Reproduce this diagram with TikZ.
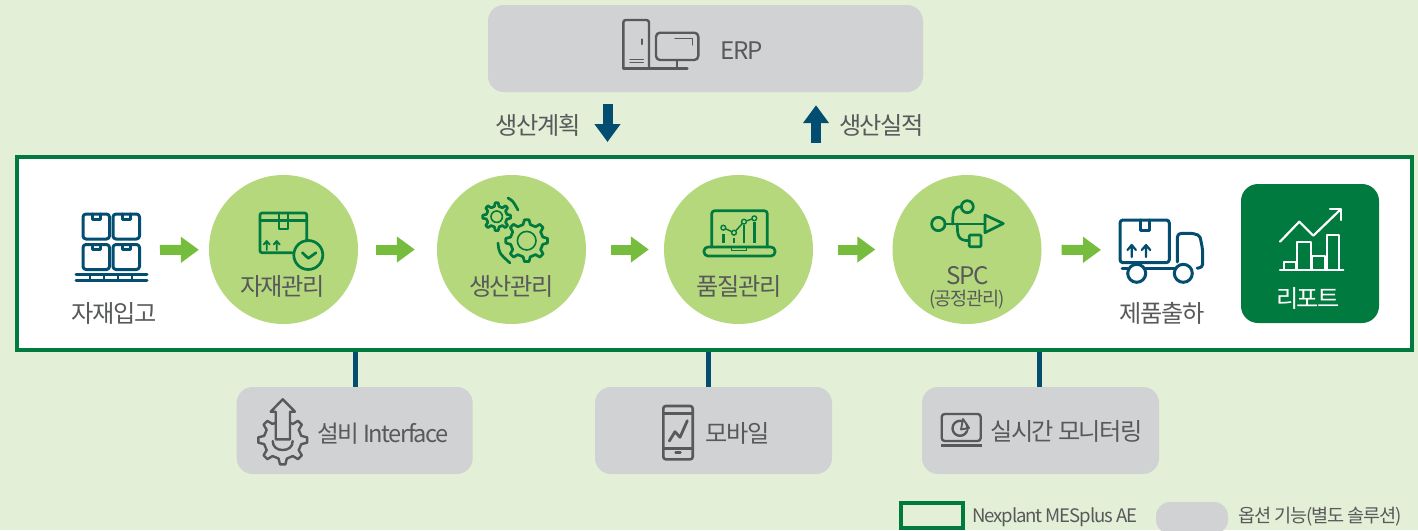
\documentclass[tikz,border=0pt]{standalone}
\usepackage{fontspec}
\setmainfont[LetterSpace=-6]{Noto Sans CJK KR}
\usetikzlibrary{arrows.meta,positioning}
\definecolor{pagegreen}{HTML}{E3EFD6}
\definecolor{framegreen}{HTML}{007A3F}
\definecolor{circlegreen}{HTML}{B5D87C}
\definecolor{arrowgreen}{HTML}{76BC3D}
\definecolor{boxgray}{HTML}{D0D2D3}
\definecolor{linkblue}{HTML}{034E70}
\definecolor{textgray}{HTML}{58595B}
\tikzset{
    label/.style = {
            inner sep  = 0pt,
            yshift     = -1pt,
            text       = textgray,
            font       = \fontsize{24.2}{28}\selectfont,
        },
    smalllabel/.style = {
            label,
            font = \fontsize{18.6}{22}\selectfont,
        },
    stepcircle/.style = {
            circle,
            fill         = circlegreen,
            minimum size = 149pt,
            inner sep    = 0pt,
        },
    optionbox/.style = {
            rectangle,
            fill            = boxgray,
            rounded corners = 16pt,
            inner sep       = 0pt,
            minimum height  = 87pt,
        },
    flow/.style = {
            draw       = arrowgreen,
            line width = 10pt,
            -{Triangle[length=18pt,width=25pt]},
        },
    transfer/.style = {
            draw       = linkblue,
            line width = 10pt,
            -{Triangle[length=18pt,width=25pt]},
        },
    link/.style = {
            draw       = linkblue,
            line width = 5pt,
        },
    greenicon/.style = {
            draw       = framegreen,
            line width = 2.7pt,
            line join  = round,
            line cap   = round,
        },
    blueicon/.style = {
            draw       = linkblue,
            line width = 3pt,
            line join  = round,
            line cap   = round,
        },
    grayicon/.style = {
            draw       = textgray,
            line width = 2.4pt,
            line join  = round,
            line cap   = round,
        },
    whiteicon/.style = {
            draw       = white,
            line width = 2.2pt,
            line join  = round,
            line cap   = round,
        },
}
\newcommand{\gearshape}[6]{
    \pgfmathsetmacro{\gearstep}{360/#5}
    \foreach \i in {1,...,#5}{
        \pgfmathsetmacro{\gearangle}{\i*\gearstep}
        \draw[#6, shift={(#1,#2)}] (\gearangle-.28*\gearstep:#3) -- (\gearangle-.14*\gearstep:#4) -- (\gearangle+.14*\gearstep:#4) -- (\gearangle+.28*\gearstep:#3) -- (\gearangle+.72*\gearstep:#3);
    }
}
\begin{document}
\begin{tikzpicture}[x=1pt,y=-1pt]
    \useasboundingbox (0,0) rectangle (1418,530);
    \fill[pagegreen] (0,0) rectangle (1418,530);

    \node[rectangle, draw=framegreen, fill=white, line width=4pt, minimum width=1395pt, minimum height=193pt, inner sep=0pt] at (714.5,253.5) (frame) {};

    \node[optionbox, minimum width=435pt] at (705.5,48.5) (erp) {};
    \node[optionbox, minimum width=236pt] at (354.7,430.5) (iface) {};
    \node[optionbox, minimum width=237pt] at (713.5,430.5) (mobile) {};
    \node[optionbox, minimum width=237pt] at (1040.5,430.5) (monitor) {};

    \node[stepcircle] at (283.5,249.5) (material) {};
    \node[stepcircle] at (511.5,249.5) (production) {};
    \node[stepcircle] at (738.5,249.5) (quality) {};
    \node[stepcircle] at (967,249.5) (spc) {};
    \node[rectangle, fill=framegreen, rounded corners=17pt, minimum width=138pt, minimum height=139pt, inner sep=0pt] at (1310,253.5) (report) {};

    \coordinate (pallet) at (111,250);
    \coordinate (truck) at (1160,250);

    \draw[flow, shorten <=49pt, shorten >=10pt] (pallet) -- (material);
    \draw[flow, shorten <=18pt, shorten >=22pt] (material) -- (production);
    \draw[flow, shorten <=25pt, shorten >=15pt] (production) -- (quality);
    \draw[flow, shorten <=25pt, shorten >=17pt] (quality) -- (spc);
    \draw[flow, shorten <=20pt, shorten >=59pt] (spc) -- (truck);

    \draw[transfer, shorten <=12pt, shorten >=13pt] ([xshift=-98pt]erp.south) -- ([xshift=-98pt]erp.south |- frame.north);
    \draw[transfer, shorten <=12pt, shorten >=13pt] ([xshift=110.5pt]erp.south |- frame.north) -- ([xshift=110.5pt]erp.south);

    \draw[link] ([xshift=1pt]iface.north) -- ([xshift=1pt]iface.north |- frame.south);
    \draw[link] ([xshift=-5.5pt]mobile.north) -- ([xshift=-5.5pt]mobile.north |- frame.south);
    \draw[link] ([xshift=-1.5pt]monitor.north) -- ([xshift=-1.5pt]monitor.north |- frame.south);

    \node[label] at (114,312) (palletlabel) {자재입고};
    \node[label] at (282.5,285) (materiallabel) {자재관리};
    \node[label] at (511.5,285) (productionlabel) {생산관리};
    \node[label] at (739,285) (qualitylabel) {품질관리};
    \node[label] at (967.5,275) (spclabel) {SPC};
    \node[smalllabel] at (967,299) (spcsublabel) {(공정관리)};
    \node[label] at (1162,312) (trucklabel) {제품출하};
    \node[label, text=white] at (1308,297) (reportlabel) {리포트};
    \node[label] at (741.5,50) (erplabel) {ERP};
    \node[label] at (538,124) (planlabel) {생산계획};
    \node[label] at (881.5,124) (resultlabel) {생산실적};
    \node[label, anchor=west, font=\fontsize{23.6}{28}\selectfont] at (317,433) (ifacelabel) {설비 Interface};
    \node[label] at (737.5,432) (mobilelabel) {모바일};
    \node[label] at (1066.5,430) (monitorlabel) {실시간 모니터링};

    \node[rectangle, draw=framegreen, line width=4pt, minimum width=62pt, minimum height=25pt, inner sep=0pt] at (932,515.5) (legendframe) {};
    \fill[boxgray, rounded corners=14pt] (1156,502) rectangle (1228,534);
    \node[smalllabel, anchor=west] at (972,516) (legendmes) {Nexplant MESplus AE};
    \node[smalllabel, anchor=west] at (1238,516) (legendoption) {옵션 기능(별도 솔루션)};

    \foreach \bx/\by in {83/214,113/214,83/244.5,113/244.5}{
        \draw[blueicon, rounded corners=3pt] (\bx,\by) rectangle ++(26.5,25);
        \draw[blueicon] (\bx+9,\by) -- ++(0,5) -- ++(8,0) -- ++(0,-5);
    }
    \draw[blueicon] (76,274) -- (147,274);
    \draw[blueicon] (76,280.5) -- (147,280.5);
    \foreach \bx in {90,104,118,132}{
        \draw[blueicon, line width=1.6pt] (\bx,274) -- (\bx,280.5);
    }

    \draw[greenicon, rounded corners=2pt] (292,252.7) -- (260,252.7) -- (260,213) -- (306.7,213) -- (306.7,241);
    \draw[greenicon] (260,220.7) -- (306.7,220.7);
    \draw[greenicon] (279,213) -- (279,229) -- (288,229) -- (288,213);
    \draw[greenicon, line width=1.8pt] (266.7,250) -- (266.7,241) (263.7,244.5) -- (266.7,241) -- (269.7,244.5);
    \draw[greenicon, line width=1.8pt] (276.7,250) -- (276.7,241) (273.7,244.5) -- (276.7,241) -- (279.7,244.5);
    \draw[greenicon] (308.3,255) circle (14.5);
    \draw[greenicon] (302.3,252.7) -- (308.3,258.3) -- (316,252.7);

    \gearshape{496.7}{216.7}{10.5pt}{14pt}{8}{greenicon}
    \draw[greenicon, line width=1.6pt] (496.7,216.7) circle (5.7);
    \gearshape{526.7}{240.7}{16.5pt}{21pt}{8}{greenicon}
    \draw[greenicon, line width=1.6pt] (526.7,240.7) circle (9.3);
    \draw[greenicon] (508,198) .. controls (513,201) .. (518,210);
    \draw[greenicon] (498,243) .. controls (499,253) .. (510,263);

    \draw[greenicon, rounded corners=3pt] (711.7,247) -- (711.7,210.7) -- (767.3,210.7) -- (767.3,247);
    \draw[greenicon, rounded corners=4pt] (704,247) rectangle (775,256);
    \draw[greenicon, line width=1.4pt] (731.7,247) -- (731.7,250.7) -- (746.7,250.7) -- (746.7,247);
    \draw[greenicon, line width=1.4pt] (723.3,227.7) -- (734,232.7) -- (744,221.7) -- (754.3,218.3);
    \foreach \px/\py in {723.3/227.7,734/232.7,744/221.7,754.3/218.3}{
        \draw[greenicon, line width=1.4pt, fill=circlegreen] (\px,\py) circle (2.4);
    }
    \draw[greenicon, line cap=butt] (723.3,234) -- (723.3,242.7);
    \draw[greenicon, line cap=butt] (734,238.3) -- (734,242.7);
    \draw[greenicon, line cap=butt] (744,225) -- (744,242.7);
    \draw[greenicon, line cap=butt] (754.3,222) -- (754.3,242.7);

    \draw[greenicon] (938.3,224) circle (6.7);
    \draw[greenicon] (945,224) -- (985,224);
    \draw[greenicon] (985,215) -- (1003.3,223.5) -- (985,232.7) -- cycle;
    \draw[greenicon] (952.7,224) .. controls (952.7,212) and (953,206.7) .. (961.3,206.7);
    \draw[greenicon] (967.3,206.7) circle (6);
    \draw[greenicon] (957.3,224) .. controls (957.3,236) and (958,240.7) .. (969.3,240.7);
    \draw[greenicon, rounded corners=1pt] (969.3,235) rectangle (981,246.7);

    \draw[blueicon, rounded corners=3pt] (1120,220) rectangle (1169.3,262.7);
    \draw[blueicon] (1140,220) -- (1140,230) -- (1149.3,230) -- (1149.3,220);
    \draw[blueicon, line width=2.2pt] (1131.7,257) -- (1131.7,245) (1127.5,250) -- (1131.7,245) -- (1135.9,250);
    \draw[blueicon, line width=2.2pt] (1146,257) -- (1146,245) (1141.8,250) -- (1146,245) -- (1150.2,250);
    \draw[blueicon, rounded corners=4pt] (1177.3,262) -- (1177.3,233.3) -- (1194,233.3) .. controls (1200,236) .. (1202.7,250) -- (1202.7,268) -- (1197,268);
    \draw[blueicon] (1136.7,273.3) circle (9);
    \draw[blueicon] (1183.3,273.3) circle (9);
    \draw[blueicon] (1122,268.3) -- (1128,268.3);
    \draw[blueicon] (1145.5,268.3) -- (1175,268.3);

    \draw[whiteicon] (1280,241.7) -- (1299.3,221.7) -- (1313.3,235.7) -- (1340.7,209.3);
    \draw[whiteicon] (1330,209.3) -- (1341,209.3) -- (1341,220);
    \draw[whiteicon] (1280,270) -- (1343.3,270);
    \draw[whiteicon] (1284.3,270) rectangle (1295.7,261.7);
    \draw[whiteicon] (1297.3,270) rectangle (1311,241.7);
    \draw[whiteicon] (1312.3,270) rectangle (1325,256);
    \draw[whiteicon] (1326.7,270) rectangle (1339.3,235);

    \gearshape{282.7}{440}{19pt}{24.5pt}{8}{grayicon}
    \draw[grayicon, fill=boxgray] (282.7,399.3) -- (295,411.7) -- (290,411.7) -- (290,439.3) -- (275.7,439.3) -- (275.7,411.7) -- (270.7,411.7) -- cycle;
    \draw[grayicon] (272.7,441) .. controls (272.7,447) and (277,450) .. (282.7,450) .. controls (288.4,450) and (292.7,447) .. (292.7,441);

    \draw[grayicon, line width=2.6pt, rounded corners=2.5pt] (663.3,406) rectangle (692.7,459.3);
    \draw[grayicon] (663.3,413.3) -- (692.7,413.3);
    \draw[grayicon] (663.3,448.3) -- (692.7,448.3);
    \draw[grayicon] (675.5,452.5) -- (680.5,452.5);
    \draw[grayicon, line width=2.8pt] (669.3,441) -- (675,431.7) -- (680,437.3) -- (687.3,420.7);

    \draw[grayicon, rounded corners=3pt] (941.7,414) rectangle (980.7,441);
    \draw[grayicon, line cap=butt, line width=3pt] (941,445.5) -- (981.7,445.5);
    \draw[grayicon] (960,428.3) circle (7.5);
    \fill[boxgray] (960,428.3) -- ++(70:12pt) -- ++(-80:14pt) -- cycle;
    \draw[grayicon, line width=1.8pt] (963,419) -- (969,428) -- (961,429.5) -- cycle;

    \draw[grayicon, rounded corners=2.5pt] (623.3,68.3) -- (623.3,20) -- (649,20) -- (649,68.3);
    \draw[grayicon] (623.3,68.3) -- (687.3,68.3);
    \draw[grayicon] (641.7,39.5) -- (641.7,44);
    \draw[grayicon, line width=1.2pt] (630,59.3) -- (643.3,59.3);
    \draw[grayicon, line width=1.2pt] (630,62.7) -- (643.3,62.7);
    \draw[grayicon, rounded corners=4pt] (656,32.7) rectangle (698.3,60);
    \draw[grayicon] (676.7,60) -- (676.7,68);
    \draw[grayicon, line width=1.2pt] (675,38.3) -- (692.7,38.3) -- (692.7,45);
\end{tikzpicture}
\end{document}
